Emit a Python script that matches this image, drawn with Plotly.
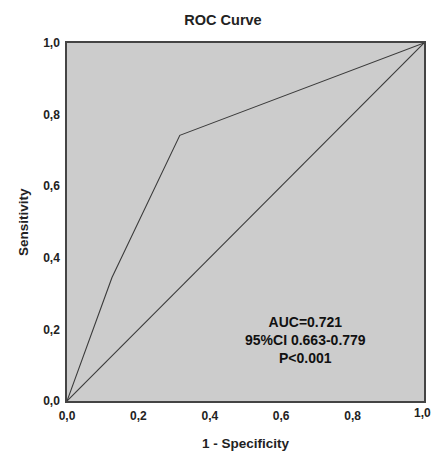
import plotly.graph_objects as go

# ROC curve data
fpr = [0.0, 0.126, 0.316, 1.0]
tpr = [0.0, 0.345, 0.742, 1.0]
ref_x = [0.0, 1.0]
ref_y = [0.0, 1.0]
tick_vals = [0.0, 0.2, 0.4, 0.6, 0.8, 1.0]
tick_text = ["0,0", "0,2", "0,4", "0,6", "0,8", "1,0"]
stats_text = "AUC=0.721<br>95%CI 0.663-0.779<br>P<0.001"

FONT = "Liberation Sans, Arial, sans-serif"
W, H = 433, 452

fig = go.Figure()
fig.add_trace(go.Scatter(x=fpr, y=tpr, mode="lines",
                         line=dict(color="#3a3a3a", width=1.1), showlegend=False))
fig.add_trace(go.Scatter(x=ref_x, y=ref_y, mode="lines",
                         line=dict(color="#3a3a3a", width=1.1), showlegend=False))

tickfont = dict(family=FONT, size=12, color="#222222", weight="bold")

fig.update_layout(
    width=W, height=H,
    margin=dict(l=67, r=9, t=43, b=51, autoexpand=False),
    paper_bgcolor="white",
    plot_bgcolor="#cccccc",
    title=dict(text="ROC Curve", x=0.515, xanchor="center", y=1 - 20 / H, yanchor="middle",
               font=dict(family=FONT, size=14.5, color="#222222", weight="bold")),
    font=dict(family=FONT, color="#222222"),
    xaxis=dict(range=[0, 1], tickvals=tick_vals[:-1], ticktext=tick_text[:-1], showgrid=False,
               zeroline=False, showline=True, linecolor="#444444", linewidth=1.5, mirror=True,
               ticks="", ticklabelstandoff=3, automargin=False, ticklabeloverflow="allow",
               tickfont=tickfont),
    yaxis=dict(range=[0, 1], tickvals=tick_vals, ticktext=tick_text, showgrid=False,
               zeroline=False, showline=True, linecolor="#444444", linewidth=1.5, mirror=True,
               ticks="", ticklabelstandoff=3, automargin=False,
               tickfont=tickfont),
    annotations=[
        # last x tick label, nudged left so it stays inside the figure
        dict(text=tick_text[-1], x=tick_vals[-1], y=0, xref="x", yref="paper",
             showarrow=False, xanchor="center", yanchor="top", xshift=-2, yshift=-3,
             font=tickfont),
        dict(text=stats_text, x=0.667, y=0.171, xref="x", yref="y", showarrow=False,
             align="center", font=dict(family=FONT, size=14, color="#111111", weight="bold")),
        dict(text="1 - Specificity", x=0.5, y=-0.12, xref="paper", yref="paper",
             showarrow=False, xanchor="center", yanchor="middle",
             font=dict(family=FONT, size=13.5, color="#222222", weight="bold")),
        dict(text="Sensitivity", x=-0.123, y=0.5, xref="paper", yref="paper",
             showarrow=False, textangle=-90, xanchor="center", yanchor="middle",
             font=dict(family=FONT, size=13.5, color="#222222", weight="bold")),
    ],
)

fig.write_html(
    "out.html",
    config={"displayModeBar": False},
    post_script="document.body.style.margin='0';document.body.style.overflow='hidden';",
)
